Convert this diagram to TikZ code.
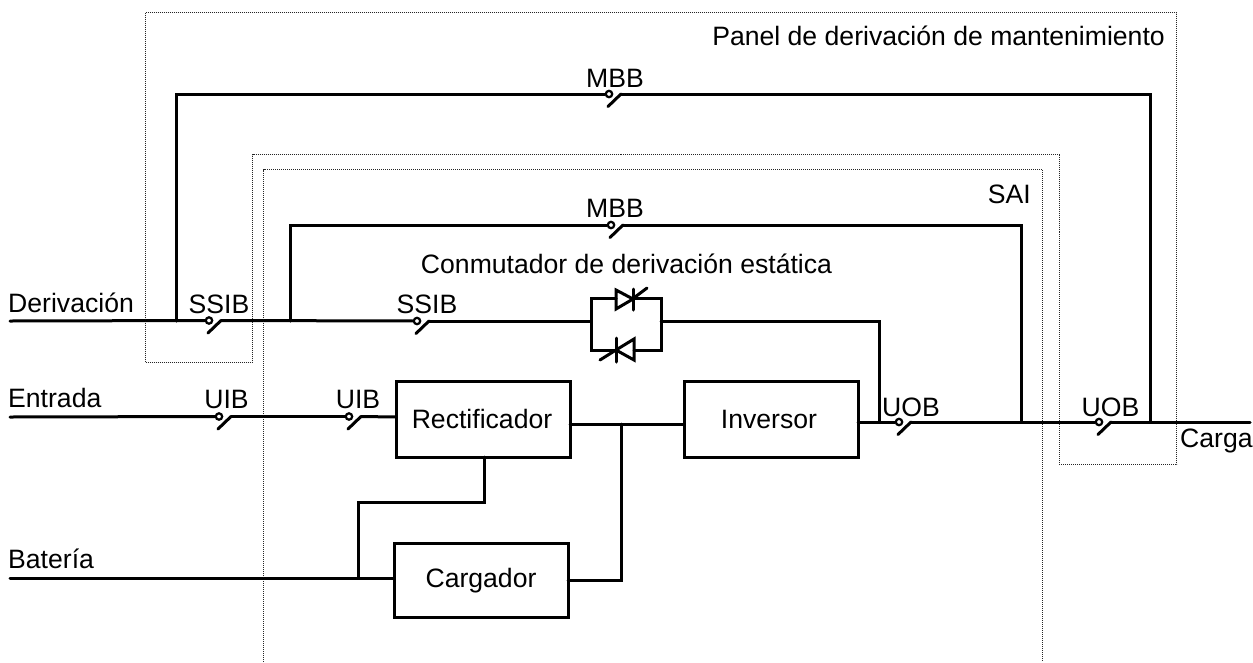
\documentclass[tikz,border=0pt]{standalone}
\usepackage{fontspec}
\setmainfont{Liberation Sans}
\tikzset{
  wire/.style={line width=3pt,line cap=round,line join=miter},
  frame/.style={line width=1pt,dash pattern=on 1pt off 1pt,draw=black!85},
  blockbox/.style={draw,line width=3pt,inner sep=0pt},
  lbl/.style={font=\fontsize{26.6}{27}\selectfont,inner sep=0pt},
  pole/.style={circle,draw,line width=2.2pt,minimum size=6.4pt,inner sep=0pt,fill=white},
}
% #1 name, #2 x, #3 y
\newcommand{\swt}[3]{
  \node[pole] (#1a) at (#2,#3) {};
  \coordinate (#1b) at (#2+12,#3);
  \draw[wire] (#2-1,#3+12.5) -- (#1b);
}
\begin{document}
\begin{tikzpicture}[x=1pt,y=-1pt]
\useasboundingbox (0,0) rectangle (1253,662);
% dotted frames
\draw[frame] (145.5,12.5) -- (1176.5,12.5) -- (1176.5,464.5) -- (1059.5,464.5) -- (1059.5,154.5) -- (252.5,154.5) -- (252.5,362.5) -- (145.5,362.5) -- cycle;
\draw[frame] (263.5,662) -- (263.5,169.5) -- (1042.5,169.5) -- (1042.5,662);
% blocks
\node[blockbox,minimum width=174pt,minimum height=76pt] (rect) at (483,419) {};
\node[blockbox,minimum width=174pt,minimum height=76pt] (inv) at (771,419) {};
\node[blockbox,minimum width=174pt,minimum height=74pt] (carg) at (481,580) {};
\node[lbl] at (482,419) {Rectificador};
\node[lbl] at (769,419) {Inversor};
\node[lbl] at (481,581) {Cargador};
% switches
\swt{ssiba}{209}{320.5}
\swt{ssibb}{417}{321}
\swt{uiba}{219}{416.5}
\swt{uibb}{349}{416.5}
\swt{mbbo}{609}{94}
\swt{mbbi}{611}{225}
\swt{uoba}{899}{422}
\swt{uobb}{1099}{422}
% free coordinates
\coordinate (der) at (10,321);
\coordinate (ent) at (10,417);
\coordinate (bat) at (10,578);
\coordinate (load) at (1250,422);
\coordinate (jo) at (176,321);
\coordinate (ji) at (290,321);
\coordinate (tl) at (591,321);
\coordinate (tr) at (661,321);
\coordinate (jb) at (358,578);
\coordinate (jc) at (621,424);
\coordinate (ju) at (879,422);
\coordinate (jm) at (1021,422);
\coordinate (jn) at (1150,422);
% wires
\draw[wire] (der) -- (ssibaa);
\draw[wire] (ssibab) -- (ssibba);
\draw[wire] (ssibbb) -- (tl);
\draw[wire] (jo) -- (176,94) -- (mbboa);
\draw[wire] (mbbob) -- (1150,94) -- (jn);
\draw[wire] (ji) -- (290,225) -- (mbbia);
\draw[wire] (mbbib) -- (1021,225) -- (jm);
\draw[wire] (tr) -- (879,321) -- (ju);
\draw[wire] (ent) -- (uibaa);
\draw[wire] (uibab) -- (uibba);
\draw[wire] (uibbb) -- (396,417);
\draw[wire] (570,424) -- (684,424);
\draw[wire] (jc) -- (621,580) -- (568,580);
\draw[wire] (858,422) -- (uobaa);
\draw[wire] (uobab) -- (uobba);
\draw[wire] (uobbb) -- (load);
\draw[wire] (484,457) -- (484,502) -- (358,502) -- (jb);
\draw[wire] (bat) -- (394,578);
% static switch
\draw[wire] (tl) -- (591,298) -- (616,298);
\draw[wire] (633,298) -- (661,298) -- (tr);
\draw[wire] (tl) -- (591,350) -- (616,350);
\draw[wire] (634,350) -- (661,350) -- (tr);
\draw[wire,line join=miter] (616,290) -- (633,299) -- (616,309) -- cycle;
\draw[wire] (633,289) -- (633,310);
\draw[wire] (633,298.5) -- (647,288);
\draw[wire,line join=miter] (634,339) -- (616,350) -- (634,360) -- cycle;
\draw[wire] (616,338) -- (616,362);
\draw[wire] (616,350) -- (600,360);
% labels
\node[lbl,anchor=west] at (8,303) {Derivación};
\node[lbl,anchor=west] at (8,398) {Entrada};
\node[lbl,anchor=west] at (8,559) {Batería};
\node[lbl,anchor=west] at (1180,441) {Carga};
\node[lbl] at (219,304) {SSIB};
\node[lbl] at (427,304) {SSIB};
\node[lbl] at (226.5,399) {UIB};
\node[lbl] at (358,399) {UIB};
\node[lbl] at (615,78) {MBB};
\node[lbl] at (615,208) {MBB};
\node[lbl] at (911,407) {UOB};
\node[lbl] at (1110.5,407) {UOB};
\node[lbl] at (626.5,264) {Conmutador de derivación estática};
\node[lbl,anchor=east] at (1165,36) {Panel de derivación de mantenimiento};
\node[lbl,anchor=east] at (1031,194) {SAI};
\end{tikzpicture}
\end{document}
